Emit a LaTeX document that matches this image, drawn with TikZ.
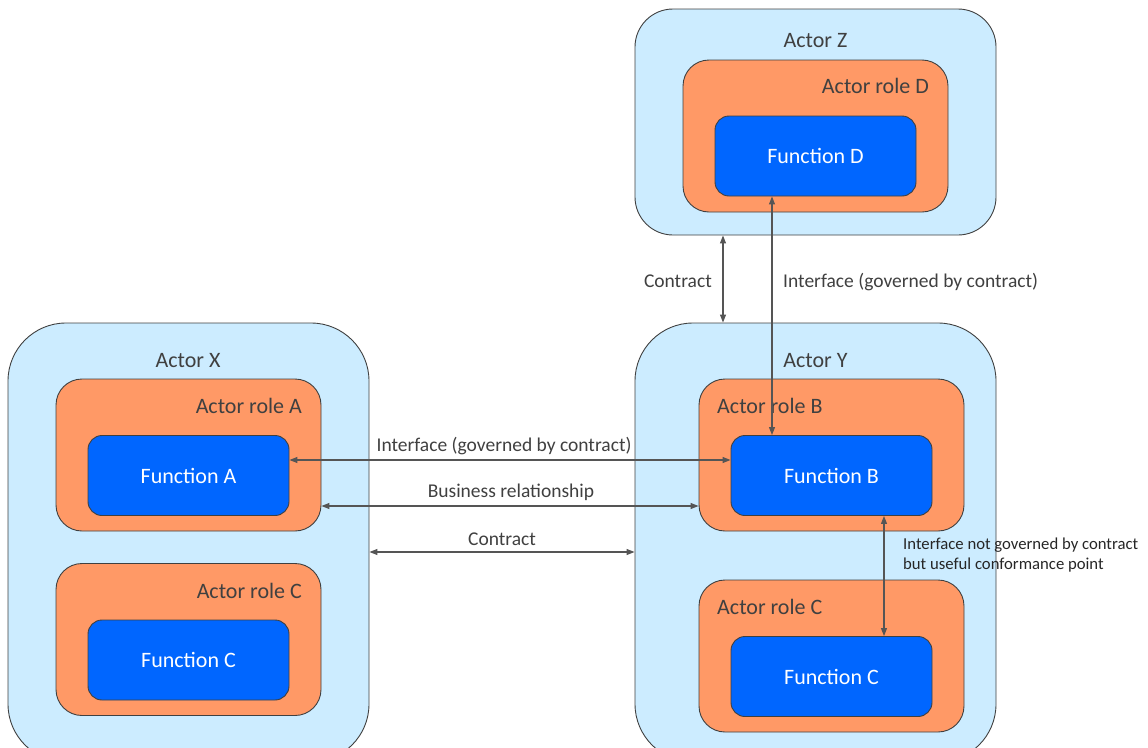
\documentclass[tikz,border=0pt]{standalone}
\usepackage{fontspec}
\setmainfont{Carlito}
\usetikzlibrary{arrows.meta}
\definecolor{actorfill}{HTML}{CCECFF}
\definecolor{rolefill}{HTML}{FF9966}
\definecolor{funcfill}{HTML}{0066FF}
\definecolor{edgeline}{HTML}{404040}
\definecolor{ink}{HTML}{404040}
\definecolor{wire}{HTML}{555555}
\begin{document}
\begin{tikzpicture}[x=1pt,y=-1pt,
  box/.style={draw=edgeline, line width=0.9pt, rectangle, inner sep=0pt},
  actor/.style={box, fill=actorfill, minimum width=361pt, rounded corners=38pt},
  bigactor/.style={actor, minimum height=439pt, rounded corners=58pt},
  role/.style={box, fill=rolefill, minimum width=265pt, minimum height=152pt, rounded corners=26pt},
  func/.style={box, fill=funcfill, minimum width=201pt, minimum height=80pt, rounded corners=14pt,
    text=white, font=\fontsize{22}{26}\selectfont},
  title/.style={text=ink, inner sep=0pt, font=\fontsize{22}{26}\selectfont},
  lbl/.style={text=ink, inner sep=0pt, font=\fontsize{19.5}{23}\selectfont},
  smalllbl/.style={text=black!85, inner sep=0pt, align=left, font=\fontsize{16.7}{20}\selectfont},
  conn/.style={draw=wire, line width=1.1pt, {Triangle[length=8pt,width=6pt]}-{Triangle[length=8pt,width=6pt]}}
]
\useasboundingbox (0,0) rectangle (1148,747);
\clip (0,0) rectangle (1148,747);

% Actor Z
\node[actor, minimum height=226pt] (actZ) at (815.5,122) {};
\node[role] (roleD) at (815.5,136) {};
\node[func] (fD) at (815.5,156) {Function D};
\node[title, anchor=base] (tZ) at (815.5,47) {Actor Z};
\node[title, anchor=base east] (tD) at (929,93) {Actor role D};

% Actor X
\node[bigactor] (actX) at (188.5,542.5) {};
\node[role] (roleA) at (188.5,455) {};
\node[func] (fA) at (188.5,475.5) {Function A};
\node[role] (roleCl) at (188.5,639.5) {};
\node[func] (fCl) at (188.5,660) {Function C};
\node[title, anchor=base] (tX) at (188,367) {Actor X};
\node[title, anchor=base east] (tA) at (302,413) {Actor role A};
\node[title, anchor=base east] (tCl) at (302,598) {Actor role C};

% Actor Y
\node[bigactor] (actY) at (815.5,542.5) {};
\node[role] (roleB) at (831.5,455) {};
\node[func] (fB) at (831.5,475.5) {Function B};
\node[role] (roleCr) at (831.5,656) {};
\node[func] (fCr) at (831.5,676.5) {Function C};
\node[title, anchor=base] (tY) at (815.5,367) {Actor Y};
\node[title, anchor=base west] (tB) at (717,413) {Actor role B};
\node[title, anchor=base west] (tCr) at (717,614) {Actor role C};

% Connectors between actors, roles and functions
\draw[conn] ([xshift=-92.5pt]actZ.south) coordinate (zc) -- (zc |- actY.north);
\draw[conn] ([xshift=-43.5pt]fD.south) coordinate (dc) -- (dc |- fB.north);
\draw[conn] ([yshift=15.5pt]fA.east) coordinate (ac) -- (ac -| fB.west);
\draw[conn] ([yshift=-51pt]roleA.east) coordinate (rc) -- (rc -| roleB.west);
\draw[conn] ([yshift=-9.5pt]actX.east) coordinate (xc) -- (xc -| actY.west);
\draw[conn] ([xshift=52.5pt]fB.south) coordinate (bc) -- (bc |- fCr.north);

% Connector labels
\node[lbl, anchor=base east] (lzc) at (712,287) {Contract};
\node[lbl, anchor=base west] (ldc) at (783,287) {Interface (governed by contract)};
\node[lbl, anchor=base] (lac) at (504,451) {Interface (governed by contract)};
\node[lbl, anchor=base] (lrc) at (511,497) {Business relationship};
\node[lbl, anchor=base] (lxc) at (502,545) {Contract};
\node[smalllbl, anchor=north west] (lbc) at (903,538) {Interface not governed by contract\\but useful conformance point};
\end{tikzpicture}
\end{document}
